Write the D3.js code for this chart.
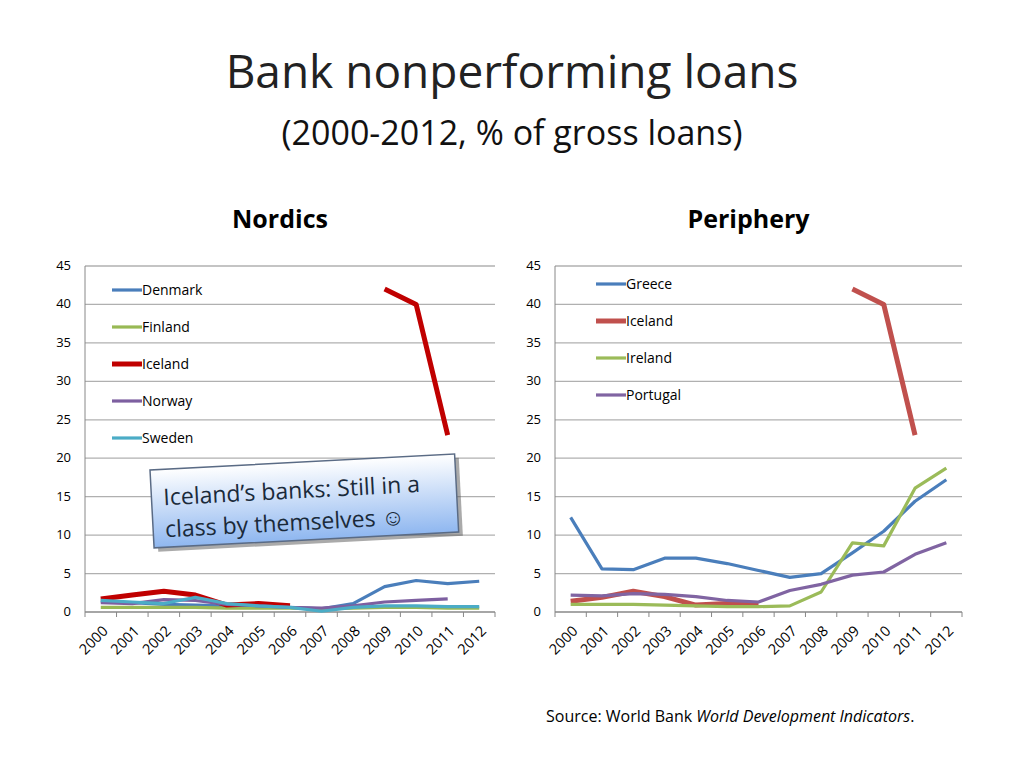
<!DOCTYPE html>
<html><head><meta charset="utf-8">
<script src="https://cdn.jsdelivr.net/npm/d3@7"></script>
<style>body{margin:0;background:#fff;font-family:"Open Sans",sans-serif}</style>
</head><body><div id="viz"></div>
<script>
// DATA
const years = ["2000","2001","2002","2003","2004","2005","2006","2007","2008","2009","2010","2011","2012"]
const yTicks = [0,5,10,15,20,25,30,35,40,45]
const denmark  = [1.4,1.2,1.0,0.9,0.8,0.7,0.6,0.4,1.1,3.3,4.1,3.7,4.0]
const finland  = [0.6,0.6,0.6,0.6,0.5,0.5,0.5,0.4,0.5,0.6,0.6,0.5,0.5]
const iceland  = [1.7,2.2,2.7,2.2,0.9,1.1,0.8,null,null,42,40,23,null]
const norway   = [1.2,1.1,1.6,1.5,1.0,0.8,0.6,0.5,0.8,1.3,1.5,1.7,null]
const sweden   = [1.5,1.3,1.1,1.9,1.1,0.8,0.6,0.1,0.6,0.8,0.8,0.7,0.7]
const greece   = [12.3,5.6,5.5,7.0,7.0,6.3,5.4,4.5,5.0,7.7,10.5,14.4,17.2]
const icelandP = [1.4,1.9,2.7,2.0,0.9,1.1,0.9,null,null,42,40,23,null]
const ireland  = [1.0,1.0,1.0,0.9,0.8,0.7,0.7,0.8,2.6,9.0,8.6,16.1,18.7]
const portugal = [2.2,2.1,2.4,2.3,2.0,1.5,1.3,2.8,3.6,4.8,5.2,7.5,9.0]

const nordics = [
  {name:"Denmark", values:denmark, color:"#4a7ebb", w:3.2},
  {name:"Finland", values:finland, color:"#98b954", w:3.2},
  {name:"Iceland", values:iceland, color:"#c00000", w:5},
  {name:"Norway",  values:norway,  color:"#7d5fa0", w:3.2},
  {name:"Sweden",  values:sweden,  color:"#4bacc6", w:3.2}]
const periphery = [
  {name:"Greece",   values:greece,   color:"#4a7ebb", w:3.2},
  {name:"Iceland",  values:icelandP, color:"#c0504d", w:5},
  {name:"Ireland",  values:ireland,  color:"#9bbb59", w:3.2},
  {name:"Portugal", values:portugal, color:"#8064a2", w:3.2}]

const svg = d3.select("#viz").append("svg").attr("width",1024).attr("height",768)

svg.append("text").attr("x",512).attr("y",88).attr("text-anchor","middle")
  .style("font-size","46px").style("fill","#222").text("Bank nonperforming loans")
svg.append("text").attr("x",512).attr("y",145).attr("text-anchor","middle")
  .style("font-size","34px").style("fill","#111").text("(2000-2012, % of gross loans)")

function drawChart(left, right, title, series, legY){
  const top = 266, bottom = 612
  const x = d3.scaleBand().domain(years).range([left,right])
  const y = d3.scaleLinear().domain([0,45]).range([bottom,top])
  const g = svg.append("g")
  g.append("text").attr("x",(left+right)/2-10).attr("y",228).attr("text-anchor","middle")
    .style("font-size","25px").style("font-weight","bold").text(title)
  g.selectAll(".grid").data(yTicks).join("line")
    .attr("x1",left).attr("x2",right).attr("y1",d=>y(d)).attr("y2",d=>y(d))
    .attr("stroke",d=>d===0?"#888":"#b0b0b0").attr("stroke-width",1.3)
  g.append("line").attr("x1",left).attr("x2",left).attr("y1",top).attr("y2",bottom).attr("stroke","#888")
  g.selectAll(".ylab").data(yTicks).join("text").attr("x",left-14).attr("y",d=>y(d)+4)
    .attr("text-anchor","end").style("font-size","13px").text(d=>d)
  g.selectAll(".tick").data(years.concat(["end"])).join("line")
    .attr("x1",(d,i)=>left+i*x.step()).attr("x2",(d,i)=>left+i*x.step())
    .attr("y1",bottom).attr("y2",bottom+5).attr("stroke","#888")
  g.selectAll(".xlab").data(years).join("text")
    .attr("transform",d=>`translate(${x(d)+x.bandwidth()/2+8},${bottom+20}) rotate(-45)`)
    .attr("text-anchor","end").style("font-size","14.5px").text(d=>d)
  const line = d3.line().defined(d=>d!=null)
    .x((d,i)=>x(years[i])+x.bandwidth()/2).y(d=>y(d))
  series.forEach(s=>{
    g.append("path").attr("d",line(s.values)).attr("fill","none")
      .attr("stroke",s.color).attr("stroke-width",s.w).attr("stroke-linejoin","round")
  })
  series.forEach((s,i)=>{
    const ly = legY[0]+i*legY[1]
    g.append("line").attr("x1",legY[2]).attr("x2",legY[2]+30).attr("y1",ly).attr("y2",ly)
      .attr("stroke",s.color).attr("stroke-width",s.w)
    g.append("text").attr("x",legY[2]+30).attr("y",ly+5).style("font-size","14px").text(s.name)
  })
}
drawChart(85,495,"Nordics",nordics,[290,37,112])
drawChart(555,962,"Periphery",periphery,[284,37,596])

// callout
const defs = svg.append("defs")
const grad = defs.append("linearGradient").attr("id","cg").attr("x1",0).attr("y1",0).attr("x2",0).attr("y2",1)
grad.append("stop").attr("offset","0%").attr("stop-color","#ffffff")
grad.append("stop").attr("offset","100%").attr("stop-color","#8fb7f0")
const c = svg.append("g").attr("transform","translate(150,470) rotate(-3)")
c.append("rect").attr("x",4).attr("y",4).attr("width",305).attr("height",78).attr("fill","#555").attr("opacity",0.5)
c.append("rect").attr("width",305).attr("height",78).attr("fill","url(#cg)").attr("stroke","#5a6b85").attr("stroke-width",1.5)
c.append("text").attr("x",12).attr("y",36).style("font-size","23px").style("fill","#1a2a3a").text("Iceland’s banks: Still in a")
c.append("text").attr("x",12).attr("y",68).style("font-size","23px").style("fill","#1a2a3a").text("class by themselves ☺")

svg.append("text").attr("x",546).attr("y",722).style("font-size","16px")
  .html('Source: World Bank <tspan font-style="italic">World Development Indicators</tspan>.')
</script></body></html>
